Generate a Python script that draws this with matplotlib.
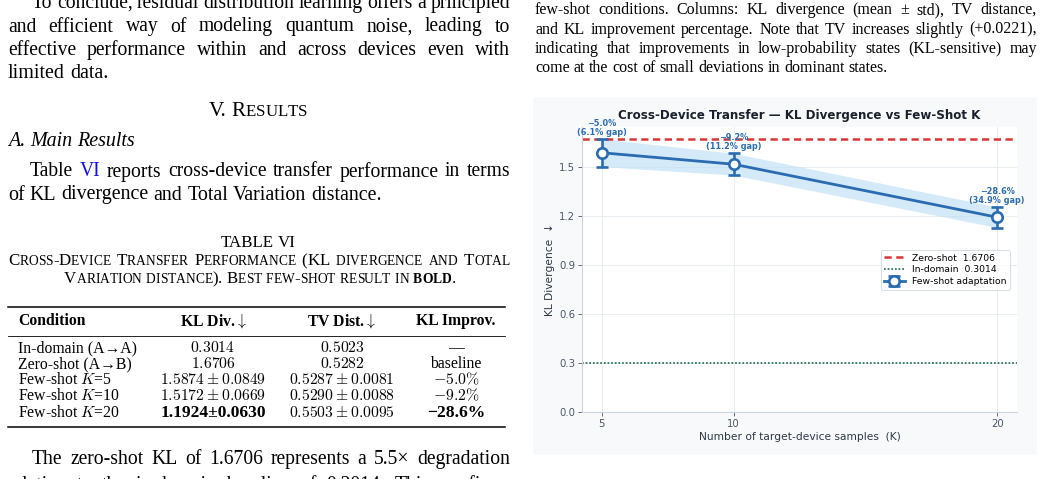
import matplotlib
matplotlib.use('Agg')
import matplotlib.pyplot as plt
from matplotlib.patches import Rectangle
from matplotlib.lines import Line2D

plt.rcParams['mathtext.fontset'] = 'cm'

W, H = 1044, 479
SERIF = ['Liberation Serif', 'DejaVu Serif']

# ---- datos del grafico ----
k_values = [5, 10, 20]
kl_mean = [1.5874, 1.5172, 1.1924]
kl_std = [0.0849, 0.0669, 0.0630]
zero_shot_kl = 1.6706
in_domain_kl = 0.3014
improv_pct = ['5.0', '9.2', '28.6']
gap_pct = ['6.1', '11.2', '34.9']
y_ticks = [0.0, 0.3, 0.6, 0.9, 1.2, 1.5]

# ---- datos de la tabla ----
conditions = ['In-domain (A→A)', 'Zero-shot (A→B)',
              r'Few-shot $K$=5', r'Few-shot $K$=10', r'Few-shot $K$=20']
tv_in_domain = '0.5023'
tv_zero_shot = '0.5282'
tv_mean = ['0.5287', '0.5290', '0.5503']
tv_std = ['0.0081', '0.0088', '0.0095']

fig = plt.figure(figsize=(W / 100, H / 100), dpi=100)
fig.patch.set_facecolor('white')
renderer = fig.canvas.get_renderer()


def fx(x):
    return x / W


def fy(y):
    return 1 - y / H


def smallcaps(word, size, **kw):
    # version aproximada de versalitas
    runs = []
    for ch in word:
        if ch.islower():
            runs.append((ch.upper(), dict(kw, size=size * 0.8)))
        else:
            runs.append((ch, dict(kw, size=size)))
    return runs


def put_line(words, y, x0=None, x1=None, center=None, size=14.1, **kw):
    # cada palabra: str o lista de (texto, props)
    items = []
    for w in words:
        runs = [(w, {})] if isinstance(w, str) else w
        arts = []
        wtot = 0
        for s, p in runs:
            props = dict(family=SERIF, size=size)
            props.update(kw)
            props.update(p)
            t = fig.text(0, fy(y), s, va='baseline', ha='left', **props)
            wd = t.get_window_extent(renderer).width
            arts.append((t, wd))
            wtot += wd
        items.append((arts, wtot))
    total = sum(it[1] for it in items)
    space = 0.25 * size * 100 / 72
    if x0 is not None and x1 is not None and len(items) > 1:
        space = (x1 - x0 - total) / (len(items) - 1)
    width = total + space * (len(items) - 1)
    if center is not None:
        x = center - width / 2
    else:
        x = x0
    for arts, wtot in items:
        for t, wd in arts:
            t.set_x(fx(x))
            x += wd
        x += space


def sc_line(text, size, **kw):
    return [smallcaps(w, size, **kw) for w in text.split()]


# ---------------- columna izquierda ----------------
L0, L1 = 8, 510
put_line('To conclude, residual distribution learning offers a principled'.split(), 8, 32, L1)
put_line('and efficient way of modeling quantum noise, leading to'.split(), 31.5, L0, L1)
put_line('effective performance within and across devices even with'.split(), 55, L0, L1)
put_line('limited data.'.split(), 78.5, L0, size=14.4)

put_line([[('V.', {})], [('R', {})] + [(c, {'size': 12.2}) for c in 'ESULTS']], 116,
         center=258, size=15.2)
put_line(['A.', 'Main', 'Results'], 146, L0, style='italic', size=14.4)

put_line([[('Table', {})], [('VI', {'color': '#1010ee'})]] +
         'reports cross-device transfer performance in terms'.split(), 176.5, 30, L1)
put_line('of KL divergence and Total Variation distance.'.split(), 199.5, L0, size=14.4)

CS = 12.2
put_line(['TABLE', 'VI'], 247, center=258, size=CS)
put_line(sc_line('Cross-Device Transfer Performance (KL divergence and Total', CS),
         265, L0, L1, size=CS)
cap2 = sc_line('Variation distance). Best few-shot result in', CS)
cap2.append(smallcaps('bold', CS, weight='bold') + [('.', {'size': CS})])
put_line(cap2, 283, center=260, size=CS)

# tabla
TS = 11.3
fig.add_artist(Line2D([fx(8), fx(505)], [fy(306.5)] * 2, color='black', lw=1.1))
fig.add_artist(Line2D([fx(8), fx(505)], [fy(336)] * 2, color='black', lw=0.6))
fig.add_artist(Line2D([fx(8), fx(505)], [fy(427)] * 2, color='black', lw=1.1))
col_c = [213, 342, 456]
fig.text(fx(18), fy(325), 'Condition', family=SERIF, size=TS, weight='bold', va='baseline')
for xc, s in zip(col_c, [r'KL Div.$\downarrow$', r'TV Dist.$\downarrow$', 'KL Improv.']):
    fig.text(fx(xc), fy(325), s, family=SERIF, size=TS, weight='bold', va='baseline', ha='center')

row_y = [352.3, 368.3, 384.4, 400.5, 416.6]
kl_cells = ['$%.4f$' % in_domain_kl, '$%.4f$' % zero_shot_kl]
tv_cells = ['$%s$' % tv_in_domain, '$%s$' % tv_zero_shot]
imp_cells = ['—', 'baseline']
bold_rows = [4]
for i in range(3):
    if i == 2:
        kl_cells.append('%.4f±%.4f' % (kl_mean[i], kl_std[i]))
        imp_cells.append('−%s%%' % improv_pct[i])
    else:
        kl_cells.append(r'$%.4f\pm%.4f$' % (kl_mean[i], kl_std[i]))
        imp_cells.append(r'$-%s\%%$' % improv_pct[i])
    tv_cells.append(r'$%s\pm%s$' % (tv_mean[i], tv_std[i]))
for r, yy in enumerate(row_y):
    fig.text(fx(18), fy(yy), conditions[r], family=SERIF, size=TS, va='baseline')
    for c, (xc, cells) in enumerate(zip(col_c, [kl_cells, tv_cells, imp_cells])):
        wt = 'bold' if (r in bold_rows and c != 1) else 'normal'
        fig.text(fx(xc), fy(yy), cells[r], family=SERIF, size=TS + (1.3 if wt == 'bold' else 0),
                 weight=wt, va='baseline', ha='center')

put_line(['The', 'zero-shot', 'KL', 'of', '1.6706', 'represents', 'a', '5.5×', 'degradation'],
         464, 32, L1)
put_line('relative to the in-domain baseline of 0.3014. This confirms'.split(), 490, L0, L1)

# ---------------- columna derecha ----------------
R0, R1 = 535, 1037
RS = 11.5
put_line('few-shot conditions. Columns: KL divergence (mean ± std), TV distance,'.split(),
         14, R0, R1, size=RS)
put_line('and KL improvement percentage. Note that TV increases slightly (+0.0221),'.split(),
         33.5, R0, R1, size=RS)
put_line('indicating that improvements in low-probability states (KL-sensitive) may'.split(),
         53, R0, R1, size=RS)
put_line('come at the cost of small deviations in dominant states.'.split(), 72.5, R0, size=RS)

# ---------------- grafico ----------------
fig.add_artist(Rectangle((fx(533), fy(455)), (1037 - 533) / W, (455 - 97) / H,
                         transform=fig.transFigure, facecolor='#f8f9fa', edgecolor='none',
                         zorder=0))

BLUE = '#2b6cb0'
ax = fig.add_axes([fx(582), fy(412), (1017 - 582) / W, (412 - 127) / H])
ax.set_facecolor('white')

lo = [m - s for m, s in zip(kl_mean, kl_std)]
hi = [m + s for m, s in zip(kl_mean, kl_std)]
ax.fill_between(k_values, lo, hi, color='#bfe0f7', alpha=0.65, lw=0, zorder=1)
ax.axhline(zero_shot_kl, color='#d93636', ls=(0, (2.9, 1.8)), lw=1.8,
           label='Zero-shot  %.4f' % zero_shot_kl, zorder=2)
ax.axhline(in_domain_kl, color='#276f4c', ls=(0, (1, 1.1)), lw=1.25,
           label='In-domain  %.4f' % in_domain_kl, zorder=2)
ax.errorbar(k_values, kl_mean, yerr=kl_std, color=BLUE, lw=2, marker='o', ms=7.5,
            mfc='white', mec=BLUE, mew=1.9, capsize=4.5, capthick=1.9, elinewidth=1.9,
            label='Few-shot adaptation', zorder=3)

for k, h, ip, gp in zip(k_values, hi, improv_pct, gap_pct):
    ax.annotate('−%s%%\n(%s%% gap)' % (ip, gp), (k, h), xytext=(0, 1.5),
                textcoords='offset points', ha='center', va='bottom', fontsize=5.9,
                fontweight='bold', color=BLUE, linespacing=1.0, zorder=4)

ax.set_xlim(4.25, 20.75)
ax.set_ylim(0, 1.745)
ax.set_xticks(k_values)
ax.set_yticks(y_ticks)
ax.set_yticklabels(['%.1f' % v for v in y_ticks])
ax.tick_params(labelsize=7.3, colors='#4a5568', length=3, width=0.6, pad=2)
ax.grid(True, color='#e8edf2', lw=0.7)
ax.set_axisbelow(True)
for s in ['top', 'right']:
    ax.spines[s].set_visible(False)
for s in ['left', 'bottom']:
    ax.spines[s].set_color('#cbd5e0')
    ax.spines[s].set_linewidth(0.8)

ax.set_xlabel('Number of target-device samples  (K)', fontsize=7.7, color='#2d3748', labelpad=2)
ax.set_ylabel('KL Divergence  ↓', fontsize=7.7, color='#2d3748', labelpad=3)
ax.set_title('Cross-Device Transfer — KL Divergence vs Few-Shot K', fontsize=8.6,
             fontweight='bold', color='#1a202c', pad=6)

leg = ax.legend(loc='upper right', bbox_to_anchor=(0.995, 0.585), fontsize=6.65,
                frameon=True, handlelength=2.2, borderpad=0.4, labelspacing=0.3)
leg.get_frame().set_edgecolor('#cbd5e0')
leg.get_frame().set_linewidth(0.7)

fig.savefig('out.png', dpi=100)
